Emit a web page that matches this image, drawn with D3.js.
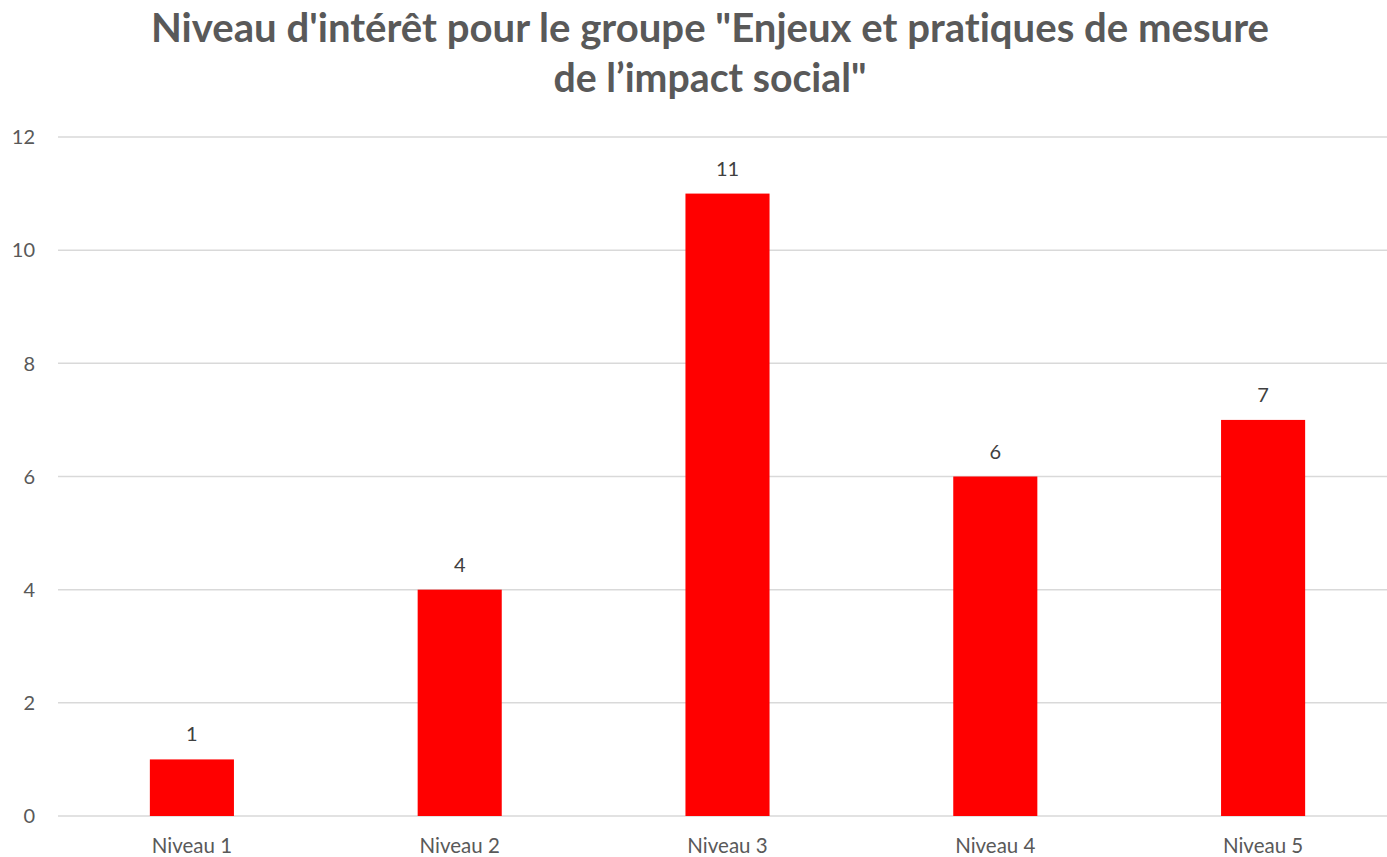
<!DOCTYPE html>
<html><head><meta charset="utf-8">
<script src="https://cdn.jsdelivr.net/npm/d3@7/dist/d3.min.js"></script>
<style>html,body{margin:0;padding:0;background:#fff;overflow:hidden} text{font-variant-ligatures:none}</style>
</head><body>
<svg id="chart" width="1387" height="857"></svg>
<script>
const categories = ["Niveau 1","Niveau 2","Niveau 3","Niveau 4","Niveau 5"];
const values = [1,4,11,6,7];
const yTicks = [0,2,4,6,8,10,12];
const titleLines = ["Niveau d'intérêt pour le groupe \"Enjeux et pratiques de mesure", "de l’impact social\""];

const svg = d3.select("#chart");
const font = "Lato, 'Open Sans', sans-serif";
const plotLeft = 58, plotRight = 1397, plotTop = 137, plotBottom = 816;

const x = d3.scaleBand().domain(categories).range([plotLeft, plotRight]).paddingInner(0.686).paddingOuter(0.343);
const y = d3.scaleLinear().domain([0, 12]).range([plotBottom, plotTop]);

// gridlines
svg.append("g").selectAll("line").data(yTicks).join("line")
  .attr("x1", plotLeft).attr("x2", plotRight)
  .attr("y1", d => y(d)).attr("y2", d => y(d))
  .attr("stroke", "#d9d9d9").attr("stroke-width", 1.5);

// y tick labels
svg.append("g").selectAll("text").data(yTicks).join("text")
  .attr("x", 35).attr("y", d => y(d)).attr("dy", "0.36em")
  .attr("text-anchor", "end")
  .attr("font-family", font).attr("font-size", 20).attr("fill", "#595959")
  .text(d => d);

// bars
svg.append("g").selectAll("rect").data(values).join("rect")
  .attr("x", (d, i) => x(categories[i]))
  .attr("width", x.bandwidth())
  .attr("y", d => y(d))
  .attr("height", d => y(0) - y(d))
  .attr("fill", "#ff0000");

// data labels
svg.append("g").selectAll("text").data(values).join("text")
  .attr("x", (d, i) => x(categories[i]) + x.bandwidth() / 2)
  .attr("y", d => y(d) - 18)
  .attr("text-anchor", "middle")
  .attr("font-family", font).attr("font-size", 20).attr("fill", "#404040")
  .text(d => d);

// category labels
svg.append("g").selectAll("text").data(categories).join("text")
  .attr("x", d => x(d) + x.bandwidth() / 2)
  .attr("y", 853)
  .attr("text-anchor", "middle")
  .attr("font-family", font).attr("font-size", 20.5).attr("fill", "#595959")
  .text(d => d);

// title
const tw = [1118, 313];
const tb = [42, 92];
titleLines.forEach((t, i) => {
  svg.append("text")
    .attr("x", 710).attr("y", tb[i])
    .attr("text-anchor", "middle")
    .attr("font-family", font).attr("font-weight", "bold").attr("font-size", 40)
    .attr("fill", "#595959")
    .attr("textLength", tw[i]).attr("lengthAdjust", "spacingAndGlyphs")
    .text(t);
});
</script>
</body></html>
